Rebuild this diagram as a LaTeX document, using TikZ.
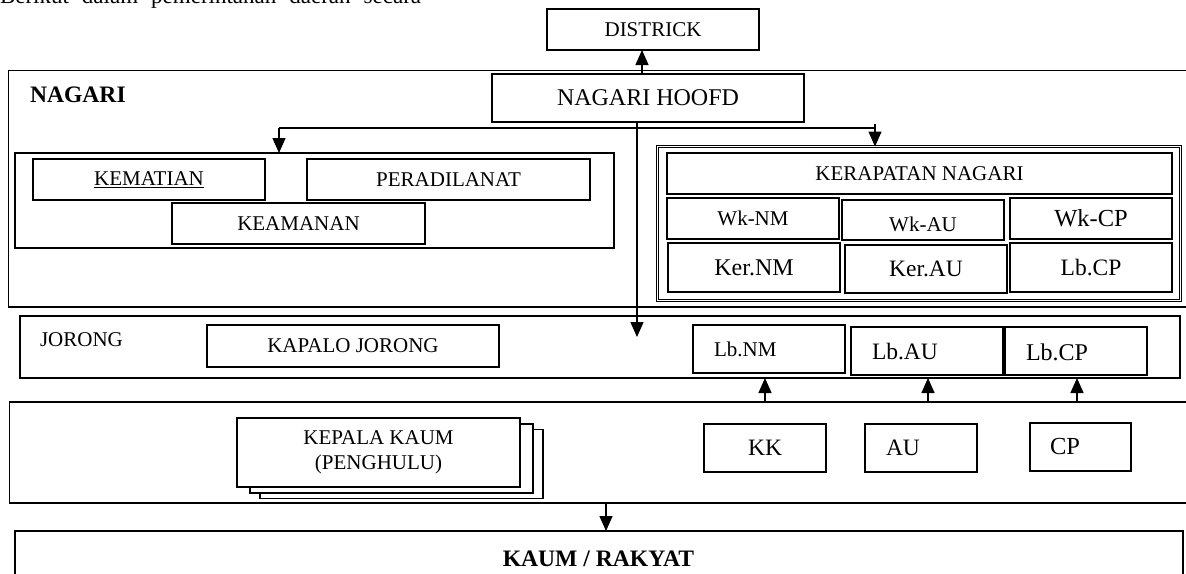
\documentclass[tikz,border=0pt]{standalone}
\usepackage{fontspec}
\setmainfont{Liberation Serif}
\usetikzlibrary{arrows.meta}
\begin{document}
\begin{tikzpicture}[x=1pt,y=-1pt,
  box/.style={draw, line width=1.3pt, rectangle, inner sep=0pt, outer sep=0pt, fill=white},
  dbox/.style={draw, double, double distance=1.6pt, line width=0.9pt, rectangle, inner sep=0pt, outer sep=0pt, fill=white},
  sz/.style n args={2}{minimum width=#1pt, minimum height=#2pt},
  fa/.style={font=\fontsize{21}{25}\selectfont},
  fb/.style={font=\fontsize{23.5}{27}\selectfont},
  fbold/.style={font=\bfseries\fontsize{23.6}{27}\selectfont},
  txt/.style={inner sep=0pt, outer sep=0pt},
  arr/.style={line width=1.4pt, -{Triangle[length=15pt,width=13pt]}},
  con/.style={line width=1.4pt}]
\useasboundingbox (0,0) rectangle (1186,573);
\clip (0,0) rectangle (1186,573);

% clipped introductory text line
\node[txt, anchor=base west, font=\fontsize{23}{27}\selectfont] (intro) at (0,3)
  {Berikut\hspace{13pt}dalam\hspace{13pt}pemerintahan\hspace{13pt}daerah\hspace{13pt}secara};

% DISTRICK
\node[box, sz={212}{41}, fa] (districk) at (653,29.5) {DISTRICK};

% NAGARI frame
\node[box, sz={1191.5}{236.3}] (nagari) at (604.25,188.85) {};
\node[txt, anchor=west, fbold] (nlab) at (30,95) {NAGARI};
\node[box, sz={312}{48}, font=\fontsize{24}{28}\selectfont] (hoofd) at (648,98) {NAGARI HOOFD};

% left group
\node[box, sz={599}{95}] (leftgrp) at (314.5,200.5) {};
\node[box, sz={232}{41}, fa] (kematian) at (149,179.5) {\underline{KEMATIAN}};
\node[box, sz={283}{41}, fa] (peradilan) at (448.5,179.5) {PERADILANAT};
\node[box, sz={253}{41}, fa] (keamanan) at (298.5,223.5) {KEAMANAN};

% right group
\node[dbox, sz={523}{154}] (rightgrp) at (919,223.5) {};
\node[box, sz={505}{41}, fa] (kerapatan) at (919.5,173.5) {KERAPATAN NAGARI};
\node[box, sz={172}{41}, fa] (wknm) at (753,218.5) {Wk-NM};
\node[box, sz={162}{40}] (wkau) at (923,220) {};
\node[txt, fa] (wkauT) at (923,224) {Wk-AU};
\node[box, sz={162}{41}, font=\fontsize{24.5}{28}\selectfont] (wkcp) at (1091,218.5) {Wk-CP};
\node[box, sz={172}{49}, font=\fontsize{24}{28}\selectfont] (kernm) at (754,267.5) {Ker.NM};
\node[box, sz={162}{48}, fb] (kerau) at (926,269) {Ker.AU};
\node[box, sz={162}{49}, fb] (lbcpa) at (1091,267.5) {Lb.CP};

% JORONG
\node[box, sz={1160}{62}] (jor) at (600,347) {};
\node[txt, anchor=west, fa] (jlab) at (40,340) {JORONG};
\node[box, sz={292}{42}, fa] (kapalo) at (353,346) {KAPALO JORONG};
\node[box, sz={152}{48}] (lbnm) at (769,349) {};
\node[txt, anchor=west, fa] (lbnmT) at (714,349.5) {Lb.NM};
\node[box, sz={152}{48}] (lbau) at (927,351) {};
\node[txt, anchor=west, fb] (lbauT) at (872,352) {Lb.AU};
\node[box, sz={142}{48}] (lbcpb) at (1076,351) {};
\node[txt, anchor=west, font=\fontsize{24}{28}\selectfont] (lbcpbT) at (1026,352) {Lb.CP};

% KK row
\node[box, sz={1190.4}{101}] (krow) at (604.8,452.5) {};
\node[box, sz={283}{69}] (kp3) at (401.5,464) {};
\node[box, sz={283}{69}] (kp2) at (391.5,458.5) {};
\node[box, sz={283}{69}, fa, align=center] (kp) at (378.5,452.5) {KEPALA KAUM\\(PENGHULU)};
\node[box, sz={122}{48}, fb] (kk) at (765,448) {KK};
\node[box, sz={112}{48}] (au) at (921,448) {};
\node[txt, anchor=west, fb] (auT) at (886,448) {AU};
\node[box, sz={101}{48}] (cp) at (1080.5,447) {};
\node[txt, anchor=west, font=\fontsize{24.5}{28}\selectfont] (cpT) at (1050,447) {CP};

% KAUM / RAKYAT
\node[box, sz={1168}{59}] (kaum) at (599,560.5) {};
\node[txt, fbold] (kaumT) at (598.5,559) {KAUM / RAKYAT};

% connectors
\draw[arr] (642,0 |- hoofd.north) -- (642,0 |- districk.south);
\coordinate (jtip) at (637,337);
\draw[arr] (637,0 |- hoofd.south) -- (jtip);
\coordinate (bl) at (279,128);
\coordinate (br) at (875,128);
\draw[con] (bl) -- (br);
\draw[arr] (bl) -- (bl |- leftgrp.north);
\draw[arr] ([yshift=4pt]br) -- (br |- rightgrp.north);
\draw[arr] (765,0 |- krow.north) -- (765,0 |- jor.south);
\draw[arr] (928,0 |- krow.north) -- (928,0 |- jor.south);
\draw[arr] (1077,0 |- krow.north) -- (1077,0 |- jor.south);
\draw[arr] (606,0 |- krow.south) -- (606,0 |- kaum.north);
\end{tikzpicture}
\end{document}
